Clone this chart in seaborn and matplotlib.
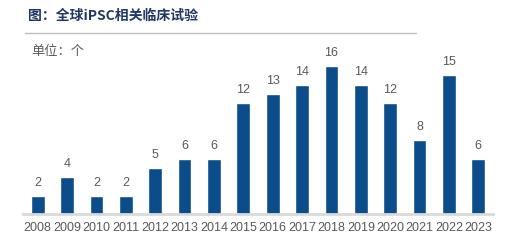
import matplotlib
matplotlib.use("Agg")
import matplotlib.pyplot as plt
import seaborn as sns
import pandas as pd
from matplotlib.lines import Line2D

years = ["2008", "2009", "2010", "2011", "2012", "2013", "2014", "2015",
         "2016", "2017", "2018", "2019", "2020", "2021", "2022", "2023"]
counts = [2, 4, 2, 2, 5, 6, 6, 12, 13, 14, 16, 14, 12, 8, 15, 6]
title = "图：全球iPSC相关临床试验"
unit = "单位：个"

sns.set_theme(style="white")
plt.rcParams['font.family'] = ['Noto Sans CJK SC', 'DejaVu Sans']

df = pd.DataFrame({"year": years, "count": counts})

fig = plt.figure(figsize=(5.17, 2.48), dpi=100)
ax = fig.add_axes([23/517, 34/248, 470/517, 166.5/248])
sns.barplot(data=df, x="year", y="count", color="#0B4C8A", width=0.47,
            saturation=1, ax=ax)
ax.set_xlim(-0.5, 15.5)
ax.set_ylim(0, 18)
ax.set_xlabel("")
ax.set_ylabel("")
ax.set_yticks([])
for s in ["top", "right", "left"]:
    ax.spines[s].set_visible(False)
ax.spines["bottom"].set_color("#D9D9D9")
ax.spines["bottom"].set_linewidth(2)
ax.tick_params(axis="x", length=0, pad=6, labelsize=9, labelcolor="#595959")
for lbl in ax.get_xticklabels():
    lbl.set_fontfamily(["Liberation Sans", "DejaVu Sans"])

for i, v in enumerate(counts):
    ax.annotate(str(v), (i, v), xytext=(0, 5), textcoords="offset points",
                ha="center", va="bottom", fontsize=9, color="#595959",
                family=["Liberation Sans", "DejaVu Sans"], annotation_clip=False)

fig.text(28/517, 1 - 16/248, title, fontsize=10, fontweight="bold",
         color="#1F3864", ha="left", va="center")
fig.add_artist(Line2D([25/517, 416/517], [1 - 33/248, 1 - 33/248],
                      color="#BFBFBF", linewidth=1, transform=fig.transFigure))
fig.text(31/517, 1 - 52/248, unit, fontsize=9.5, color="#595959",
         ha="left", va="center")

fig.savefig("out.png", dpi=100)
